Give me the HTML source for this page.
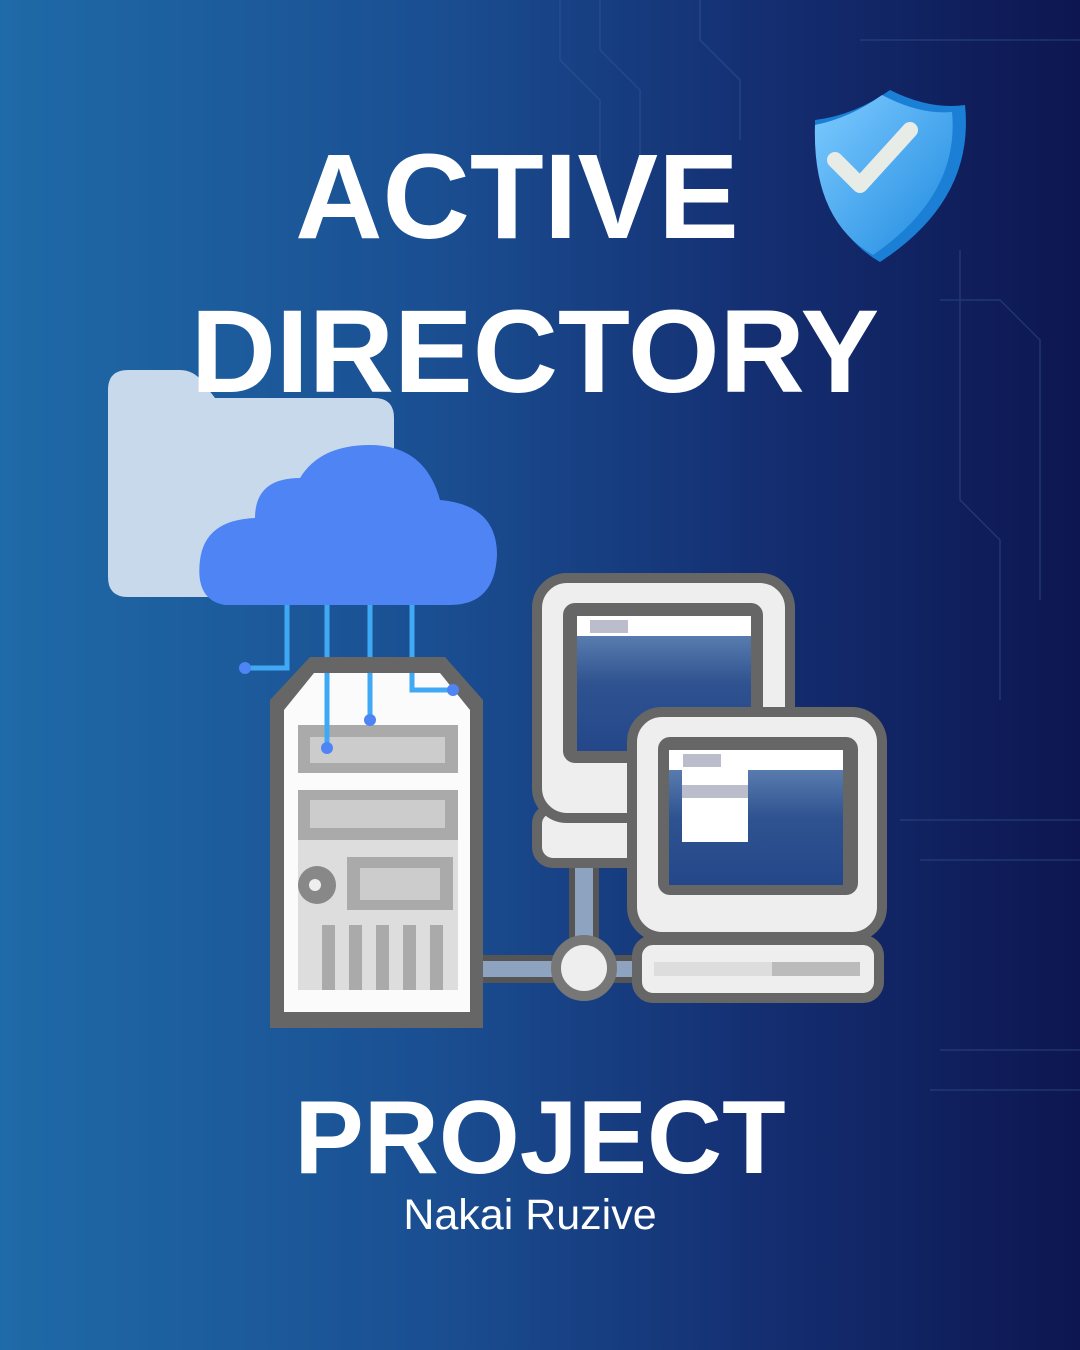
<!DOCTYPE html>
<html><head><meta charset="utf-8"><style>
html,body{margin:0;padding:0}
body{width:1080px;height:1350px;overflow:hidden;background:linear-gradient(90deg,#1f6aa8 0%,#1a4f92 40%,#142f72 70%,#0d1650 100%);position:relative;font-family:"Liberation Sans",sans-serif}
.t{position:absolute;left:0;width:1080px;text-align:center;color:#fff;font-weight:bold;}
</style></head><body>
<svg width="1080" height="1350" style="position:absolute;left:0;top:0">
<defs>
<linearGradient id="scr" x1="0" y1="0" x2="0" y2="1"><stop offset="0" stop-color="#6a8cbc"/><stop offset="0.5" stop-color="#2f5390"/><stop offset="1" stop-color="#23478a"/></linearGradient>
<linearGradient id="sh" x1="0" y1="0" x2="1" y2="1"><stop offset="0" stop-color="#7ecbff"/><stop offset="1" stop-color="#1f8ae0"/></linearGradient>
</defs>
<g stroke="#3a5f9a" stroke-width="1.5" fill="none" opacity="0.4">
<path d="M560 0 V60 L600 100 V200"/><path d="M600 0 V50 L640 90 V180"/><path d="M940 300 H1000 L1040 340 V600"/><path d="M960 250 V500 L1000 540 V700"/><path d="M900 820 H1080"/><path d="M920 860 H1080"/><path d="M940 1050 H1080"/><path d="M930 1090 H1080"/><path d="M700 0 V40 L740 80 V140"/><path d="M860 40 H1080"/>
</g>
<path d="M128 370 H180 Q195 370 205 385 L215 398 H374 Q394 398 394 418 V577 Q394 597 374 597 H128 Q108 597 108 577 V390 Q108 370 128 370 Z" fill="#c9d9ec"/>
<path d="M225 605 Q195 600 200 560 Q205 520 255 518 Q255 478 300 478 Q320 445 370 445 Q425 445 440 500 Q497 505 497 555 Q495 605 450 605 Z" fill="#4f84f5"/>
<g stroke="#3fa9f5" stroke-width="5" fill="none">
<path d="M287 605 V668 H245"/><path d="M327 605 V748"/><path d="M370 605 V720"/><path d="M412 605 V690 H453"/>
</g>
<rect x="480" y="958" width="155" height="22" fill="#8ea3c0" stroke="#555" stroke-width="6"/>
<rect x="572" y="850" width="24" height="120" fill="#8ea3c0" stroke="#555" stroke-width="6"/>
<circle cx="584" cy="968" r="28" fill="#eee" stroke="#777" stroke-width="10"/>
<path d="M270 700 L310 657 H445 L483 700 V1028 H270 Z" fill="#666"/>
<path d="M284 710 L314 673 H440 L470 710 V1012 H284 Z" fill="#fbfbfb"/>
<rect x="298" y="725" width="160" height="48" fill="#aaa"/><rect x="310" y="737" width="135" height="26" fill="#ccc"/>
<rect x="298" y="790" width="160" height="50" fill="#aaa"/><rect x="310" y="800" width="135" height="28" fill="#ccc"/>
<rect x="298" y="840" width="160" height="150" fill="#ddd"/>
<rect x="347" y="857" width="106" height="53" fill="#aaa"/><rect x="360" y="868" width="80" height="32" fill="#ccc"/>
<circle cx="317" cy="885" r="19" fill="#888"/><circle cx="315" cy="885" r="6" fill="#eee"/>
<g fill="#aaa"><rect x="322" y="925" width="13" height="65"/><rect x="349" y="925" width="13" height="65"/><rect x="376" y="925" width="13" height="65"/><rect x="403" y="925" width="13" height="65"/><rect x="430" y="925" width="13" height="65"/></g>
<path d="M327 673 V748 M370 673 V720 M412 673 V690 H453" stroke="#3fa9f5" stroke-width="5" fill="none"/>
<circle cx="245" cy="668" r="6" fill="#4f84f5"/><circle cx="327" cy="748" r="6" fill="#4f84f5"/><circle cx="370" cy="720" r="6" fill="#4f84f5"/><circle cx="453" cy="690" r="6" fill="#4f84f5"/>
<rect x="537" y="808" width="110" height="55" rx="16" fill="#eee" stroke="#666" stroke-width="10"/>
<rect x="537" y="578" width="253" height="240" rx="30" fill="#eee" stroke="#666" stroke-width="10"/>
<rect x="563" y="603" width="200" height="160" rx="12" fill="#666"/>
<rect x="577" y="616" width="174" height="135" fill="url(#scr)"/>
<rect x="577" y="616" width="174" height="20" fill="#fff"/><rect x="590" y="620" width="38" height="13" fill="#bbbccc"/>
<rect x="637" y="940" width="242" height="58" rx="16" fill="#eee" stroke="#666" stroke-width="10"/>
<rect x="772" y="962" width="88" height="14" fill="#bbb"/><rect x="654" y="962" width="118" height="14" fill="#ddd"/>
<rect x="632" y="712" width="250" height="225" rx="30" fill="#eee" stroke="#666" stroke-width="10"/>
<rect x="658" y="737" width="200" height="158" rx="12" fill="#666"/>
<rect x="669" y="750" width="174" height="135" fill="url(#scr)"/>
<rect x="669" y="750" width="174" height="20" fill="#fff"/><rect x="683" y="754" width="38" height="13" fill="#bbbccc"/>
<rect x="682" y="770" width="66" height="72" fill="#fff"/><rect x="682" y="785" width="66" height="13" fill="#bbbccc"/>
<path d="M890 90 Q930 110 965 105 Q975 200 880 262 Q815 225 815 120 Q855 115 890 90 Z" fill="#1b7fd6"/>
<path d="M882 95 Q920 115 952 112 Q960 195 873 255 Q812 220 815 125 Q850 118 882 95 Z" fill="url(#sh)"/>
<path d="M835 160 L860 185 L910 130" stroke="#e8ece6" stroke-width="16" fill="none" stroke-linecap="round" stroke-linejoin="round"/>
</svg>
<div class="t" style="top:126px;font-size:121px;left:-23px">ACTIVE</div>
<div class="t" style="top:284px;font-size:118px;left:-5px">DIRECTORY</div>
<div class="t" style="top:1079px;font-size:104px;left:0px">PROJECT</div>
<div class="t" style="top:1191px;font-size:43px;font-weight:normal;left:-10px">Nakai Ruzive</div>
</body></html>
